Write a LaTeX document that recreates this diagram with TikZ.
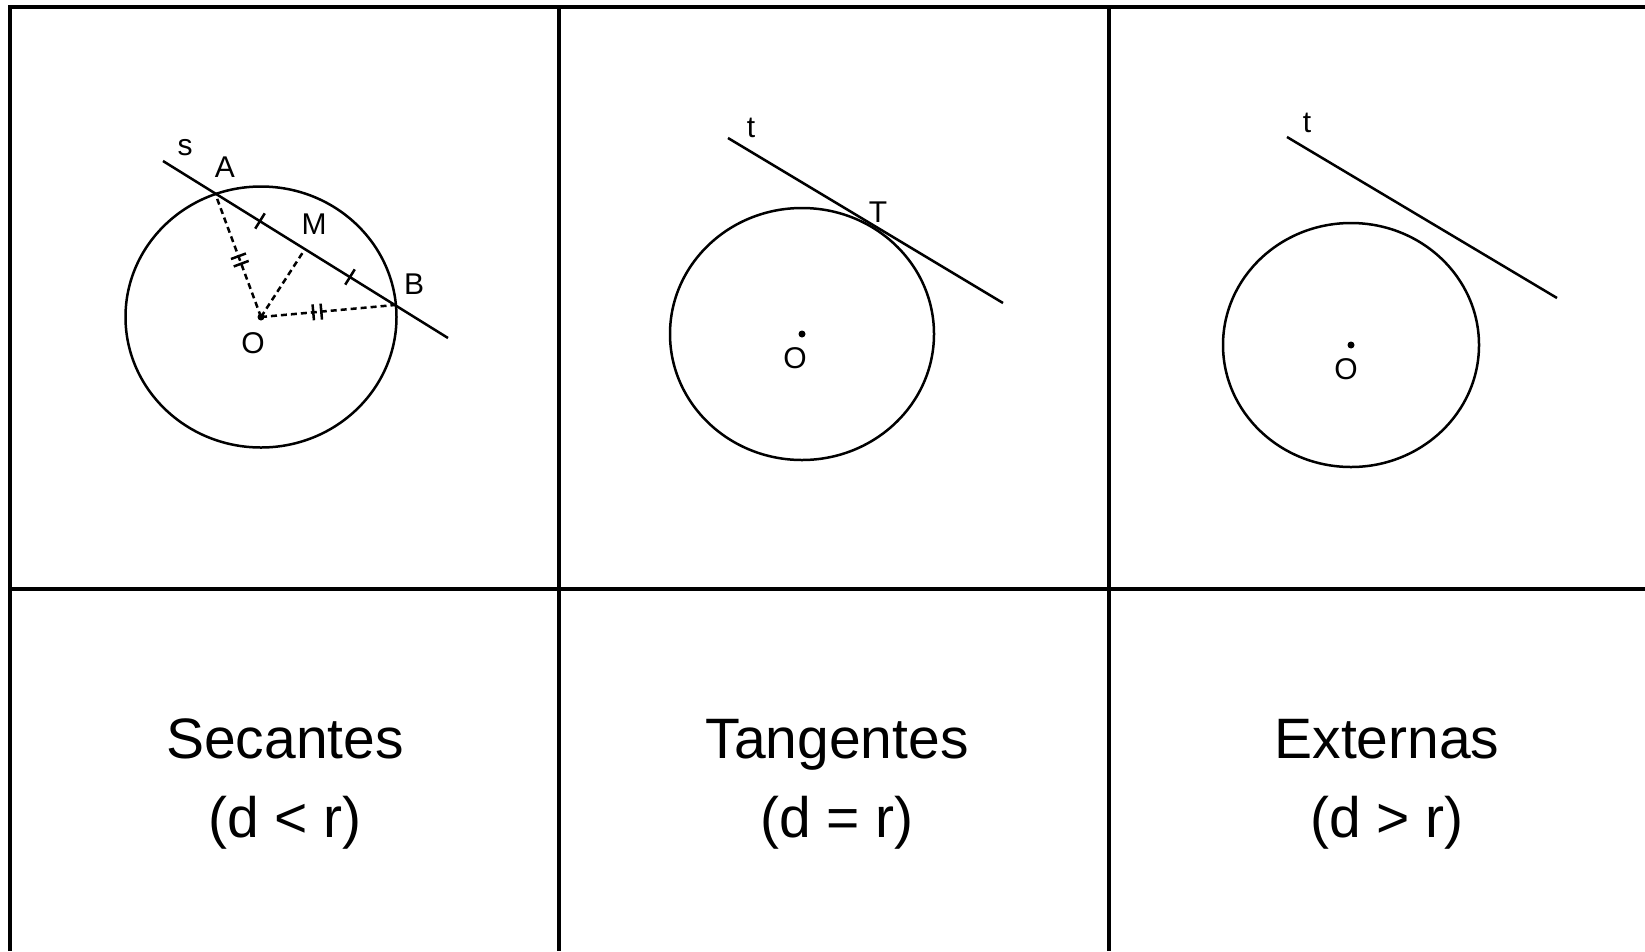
\documentclass[tikz,border=0pt]{standalone}
\usepackage{fontspec}
\setmainfont{Liberation Sans}
\usetikzlibrary{calc}
\begin{document}
\begin{tikzpicture}[x=1pt,y=-1pt,
  grid/.style={line width=3.5pt},
  fig/.style={line width=2.5pt},
  dsh/.style={line width=2.5pt, dash pattern=on 6pt off 4pt},
  lbl/.style={font=\fontsize{30}{32}\selectfont, inner sep=0pt},
  captxt/.style={font=\fontsize{57}{60}\selectfont, anchor=base, inner sep=0pt}]
\useasboundingbox (0,0) rectangle (1645,951);
\fill[white] (0,0) rectangle (1645,951);
% table grid
\coordinate (gTL) at (10,7);
\coordinate (gTR) at (1645,7);
\coordinate (gBL) at (10,951);
\coordinate (gV1t) at (559,7);
\coordinate (gV1b) at (559,951);
\coordinate (gV2t) at (1109,7);
\coordinate (gV2b) at (1109,951);
\coordinate (gHl) at (10,589);
\coordinate (gHr) at (1645,589);
\draw[grid] (gBL) -- (gTL) -- (gTR);
\draw[grid] (gV1t) -- (gV1b);
\draw[grid] (gV2t) -- (gV2b);
\draw[grid] (gHl) -- (gHr);

% ---- panel 1: secant
\coordinate (O1) at (261,317);
\draw[fig] (O1) ellipse [x radius=135.5pt, y radius=130.5pt];
\coordinate (A) at (215,193);
\coordinate (B) at (395,305);
\coordinate (sS) at (163,161);
\coordinate (sE) at (448,338);
\coordinate (M) at ($(A)!0.5!(B)$);
\draw[fig] (sS) -- (sE);
\draw[dsh] (O1) -- (A);
\draw[dsh] (O1) -- (M);
\draw[dsh] (O1) -- (B);
\fill (O1) circle[radius=3.5pt];
% tick marks
\coordinate (k1) at ($(A)!0.5!(M)$);
\coordinate (k2) at ($(M)!0.5!(B)$);
\draw[fig] ($(k1)!9pt!90:(M)$) -- ($(k1)!9pt!-90:(M)$);
\draw[fig] ($(k2)!9pt!90:(B)$) -- ($(k2)!9pt!-90:(B)$);
\coordinate (k3) at ($(O1)!0.43!(A)$);
\coordinate (k4) at ($(O1)!0.49!(A)$);
\draw[fig] ($(k3)!8pt!90:(A)$) -- ($(k3)!8pt!-90:(A)$);
\draw[fig] ($(k4)!8pt!90:(A)$) -- ($(k4)!8pt!-90:(A)$);
\coordinate (k5) at ($(O1)!0.39!(B)$);
\coordinate (k6) at ($(O1)!0.45!(B)$);
\draw[fig] ($(k5)!8pt!90:(B)$) -- ($(k5)!8pt!-90:(B)$);
\draw[fig] ($(k6)!8pt!90:(B)$) -- ($(k6)!8pt!-90:(B)$);
\node[lbl] (ls) at (185,148) {s};
\node[lbl] (lA) at (225,167) {A};
\node[lbl] (lM) at (314,224) {M};
\node[lbl] (lB) at (414,284) {B};
\node[lbl] (lO1) at (253,343) {O};

% ---- panel 2: tangent
\coordinate (O2) at (802,334);
\draw[fig] (O2) ellipse [x radius=132pt, y radius=126pt];
\fill (O2) circle[radius=3.5pt];
\coordinate (tS2) at (728,138);
\coordinate (tE2) at (1003,303);
\draw[fig] (tS2) -- (tE2);
\node[lbl] (lt2) at (751,128) {t};
\node[lbl] (lT) at (878,212) {T};
\node[lbl] (lO2) at (795,358) {O};

% ---- panel 3: external
\coordinate (O3) at (1351,345);
\draw[fig] (O3) ellipse [x radius=128pt, y radius=122pt];
\fill (O3) circle[radius=3.5pt];
\coordinate (tS3) at (1287,137);
\coordinate (tE3) at (1557,298);
\draw[fig] (tS3) -- (tE3);
\node[lbl] (lt3) at (1307,123) {t};
\node[lbl] (lO3) at (1346,369) {O};

% ---- captions
\node[captxt] (c1) at (285,758) {Secantes};
\node[captxt] (c1b) at (285,837) {(d < r)};
\node[captxt] (c2) at (837,758) {Tangentes};
\node[captxt] (c2b) at (837,837) {(d = r)};
\node[captxt] (c3) at (1387,758) {Externas};
\node[captxt] (c3b) at (1387,837) {(d > r)};
\end{tikzpicture}
\end{document}
